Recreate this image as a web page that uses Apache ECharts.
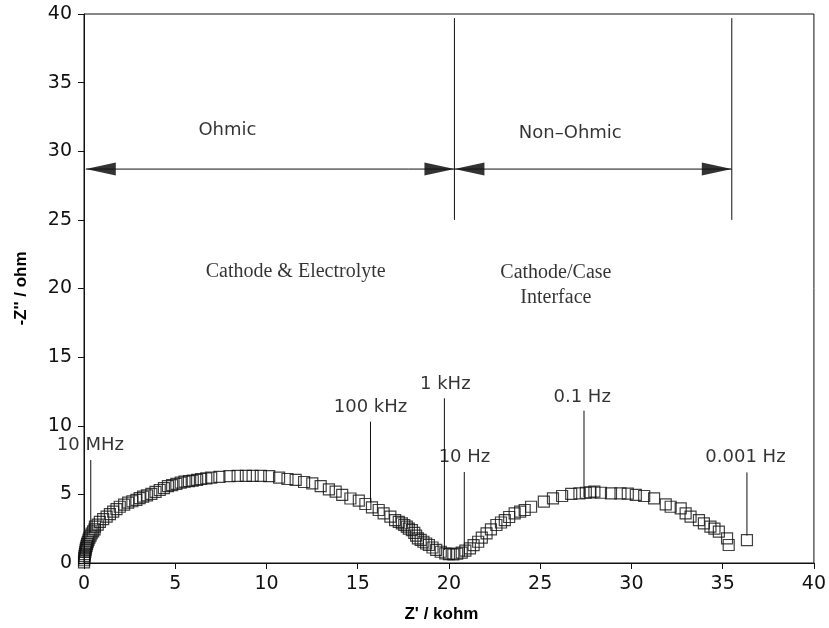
<!DOCTYPE html>
<html>
<head>
<meta charset="utf-8">
<script src="https://cdn.jsdelivr.net/npm/echarts@6/dist/echarts.min.js"></script>
<style>
html,body{margin:0;padding:0;background:#fff;}
#chart{width:829px;height:628px;}
</style>
</head>
<body>
<div id="chart"></div>
<script>
// Impedance spectrum (Nyquist plot): Z' in kohm, -Z'' in ohm
const zReal = [0.00,0.01,0.02,0.03,0.05,0.07,0.09,0.11,0.14,0.17,0.21,0.25,0.30,0.36,0.42,0.50,0.58,
  0.60,0.75,0.87,1.05,1.24,1.42,1.60,1.78,1.96,2.20,2.42,2.65,2.87,3.05,3.24,3.45,3.69,3.92,4.15,4.38,4.60,4.83,
  5.06,5.30,5.51,5.75,5.96,6.20,6.42,6.70,6.97,7.42,7.97,8.42,8.87,9.24,9.69,10.15,10.69,11.15,11.60,12.06,12.51,
  12.97,13.42,13.79,14.15,14.60,15.06,15.42,15.78,16.15,16.42,16.79,17.05,17.25,17.42,17.55,17.69,17.80,17.97,
  18.10,18.20,18.30,18.45,18.60,18.75,18.90,19.10,19.30,19.55,19.80,20.00,20.24,20.45,20.70,20.90,21.15,21.35,
  21.60,21.80,22.06,22.30,22.60,22.85,23.06,23.30,23.60,23.90,24.15,24.50,25.20,25.70,26.20,26.70,27.15,27.50,
  27.75,27.97,28.33,28.88,29.40,29.80,30.24,30.70,31.24,31.88,32.15,32.70,32.97,33.24,33.70,33.97,34.33,34.55,
  34.79,35.24,35.33,36.33];
const zImag = [0.05,0.20,0.35,0.50,0.65,0.80,0.95,1.10,1.25,1.40,1.55,1.70,1.85,2.00,2.15,2.30,2.45,
  2.65,2.80,3.00,3.20,3.38,3.56,3.74,3.92,4.10,4.25,4.40,4.50,4.60,4.72,4.83,4.93,5.03,5.18,5.32,5.46,5.60,5.68,
  5.76,5.85,5.93,5.97,6.00,6.06,6.12,6.17,6.22,6.28,6.33,6.35,6.35,6.35,6.35,6.33,6.22,6.12,6.05,5.90,5.80,
  5.60,5.37,5.20,4.96,4.70,4.55,4.30,4.06,3.86,3.62,3.38,3.13,3.00,2.89,2.77,2.65,2.50,2.40,
  2.20,2.00,1.80,1.68,1.55,1.42,1.31,1.13,0.95,0.82,0.70,0.65,0.63,0.68,0.75,0.90,1.07,1.30,
  1.55,1.85,2.16,2.45,2.77,2.95,3.13,3.35,3.62,3.75,3.86,4.10,4.47,4.71,4.88,5.03,5.08,5.12,
  5.15,5.20,5.12,5.08,5.08,5.06,4.96,4.88,4.71,4.27,4.10,3.98,3.62,3.38,3.13,2.89,2.65,2.50,
  2.28,1.80,1.31,1.67];

// Axis ticks
const xTicks = [0,5,10,15,20,25,30,35,40];
const yTicks = [0,5,10,15,20,25,30,35,40];

// Frequency annotations: label text, label anchor, leader line (x, yTop, yBottom)
const freqText  = ['10 MHz','100 kHz','1 kHz','10 Hz','0.1 Hz','0.001 Hz'];
const freqLabelX = [0.35,15.7,19.8,20.85,27.3,36.25];
const freqLabelY = [8.6,11.37,13.0,7.7,12.1,7.7];
const freqLineX  = [0.37,15.7,19.75,20.84,27.4,36.33];
const freqLineTop = [7.5,10.3,12.0,6.63,11.1,6.6];
const freqLineBot = [2.2,4.4,0.95,0.45,4.8,2.0];

// Region boundaries and arrows
const regionBounds = [20.3,35.5];
const regionTop = 39.7, regionBottom = 25;
const arrowY = 28.7;
const arrowStart = 0.1;
const regionNames = ['Ohmic','Non\u2013Ohmic'];
const regionNameX = [7.86,26.65];
const regionNameY = [31.5,31.3];
const processText = ['Cathode & Electrolyte','Cathode/Case','Interface'];
const processX = [11.6,25.86,25.86];
const processY = [21.2,21.14,19.3];

const INK = '#000';
const sansFont = 'DejaVu Sans';
const plainLabel = {textBorderWidth:0, textShadowBlur:0, color:INK};

const series = [];

// data points
series.push({
  type:'scatter', name:'Z', symbol:'rect', symbolSize:11,
  data: zReal.map((x,i)=>[x,zImag[i]]),
  itemStyle:{color:'rgba(0,0,0,0)', borderColor:'#111', borderWidth:1.2},
  z:5, silent:true
});

// frequency leader lines
freqLineX.forEach((x,i)=>{
  series.push({type:'line', data:[[x,freqLineTop[i]],[x,freqLineBot[i]]], symbol:'none',
    lineStyle:{color:'#111',width:1}, silent:true, z:4});
});
// frequency labels
series.push({
  type:'scatter', symbolSize:0, silent:true, itemStyle:{color:INK},
  data: freqText.map((t,i)=>({value:[freqLabelX[i],freqLabelY[i]], name:t})),
  label:Object.assign({show:true, position:'inside', formatter:p=>p.name,
    fontFamily:sansFont, fontSize:18, fontWeight:'normal'}, plainLabel)
});

// region vertical lines
regionBounds.forEach(x=>{
  series.push({type:'line', data:[[x,regionTop],[x,regionBottom]], symbol:'none',
    lineStyle:{color:'#111',width:1}, silent:true});
});
// horizontal arrow line
series.push({type:'line', data:[[arrowStart,arrowY],[regionBounds[1],arrowY]], symbol:'none',
  lineStyle:{color:'#111',width:1}, silent:true});

// arrowheads
const rightHead = 'path://M0,0L30,6.5L0,13Z';
const leftHead = 'path://M30,0L0,6.5L30,13Z';
series.push({type:'scatter', silent:true, symbol:leftHead, symbolSize:[30,13], symbolOffset:['50%',0],
  itemStyle:{color:INK}, data:[[arrowStart,arrowY],[regionBounds[0],arrowY]]});
series.push({type:'scatter', silent:true, symbol:rightHead, symbolSize:[30,13], symbolOffset:['-50%',0],
  itemStyle:{color:INK}, data:[[regionBounds[0],arrowY],[regionBounds[1],arrowY]]});

// region names
series.push({
  type:'scatter', symbolSize:0, silent:true, itemStyle:{color:INK},
  data: regionNames.map((t,i)=>({value:[regionNameX[i],regionNameY[i]], name:t})),
  label:Object.assign({show:true, position:'inside', formatter:p=>p.name,
    fontFamily:sansFont, fontSize:18}, plainLabel)
});
// process names (serif)
series.push({
  type:'scatter', symbolSize:0, silent:true, itemStyle:{color:INK},
  data: processText.map((t,i)=>({value:[processX[i],processY[i]], name:t})),
  label:Object.assign({show:true, position:'inside', formatter:p=>p.name,
    fontFamily:'Liberation Serif', fontSize:20}, plainLabel)
});

const chart = echarts.init(document.getElementById('chart'), null, {renderer:'canvas'});
chart.setOption({
  animation:false,
  backgroundColor:'#fff',
  grid:{left:84, right:12, top:14, bottom:65, show:true, borderColor:'#111', borderWidth:1, backgroundColor:'transparent'},
  xAxis:{
    type:'value', min:xTicks[0], max:xTicks[xTicks.length-1], interval:5,
    name:"Z' / kohm", nameLocation:'middle', nameGap:43,
    nameTextStyle:{fontFamily:'Liberation Sans', fontWeight:'bold', fontSize:17, color:'#000', padding:[0,15,0,0]},
    axisLine:{lineStyle:{color:'#111',width:1}},
    axisTick:{show:true, inside:false, length:6, lineStyle:{color:'#111'}},
    axisLabel:{color:'#111', fontFamily:sansFont, fontSize:19, margin:12},
    splitLine:{show:false}
  },
  yAxis:{
    type:'value', min:yTicks[0], max:yTicks[yTicks.length-1], interval:5,
    name:"-Z'' / ohm", nameLocation:'middle', nameGap:54, nameRotate:90,
    nameTextStyle:{fontFamily:'Liberation Sans', fontWeight:'bold', fontSize:17, color:'#000'},
    axisLine:{show:true, lineStyle:{color:'#111',width:1}},
    axisTick:{show:true, inside:false, length:6, lineStyle:{color:'#111'}},
    axisLabel:{color:'#111', fontFamily:sansFont, fontSize:19, margin:12},
    splitLine:{show:false}
  },
  series:series
});
</script>
</body>
</html>
